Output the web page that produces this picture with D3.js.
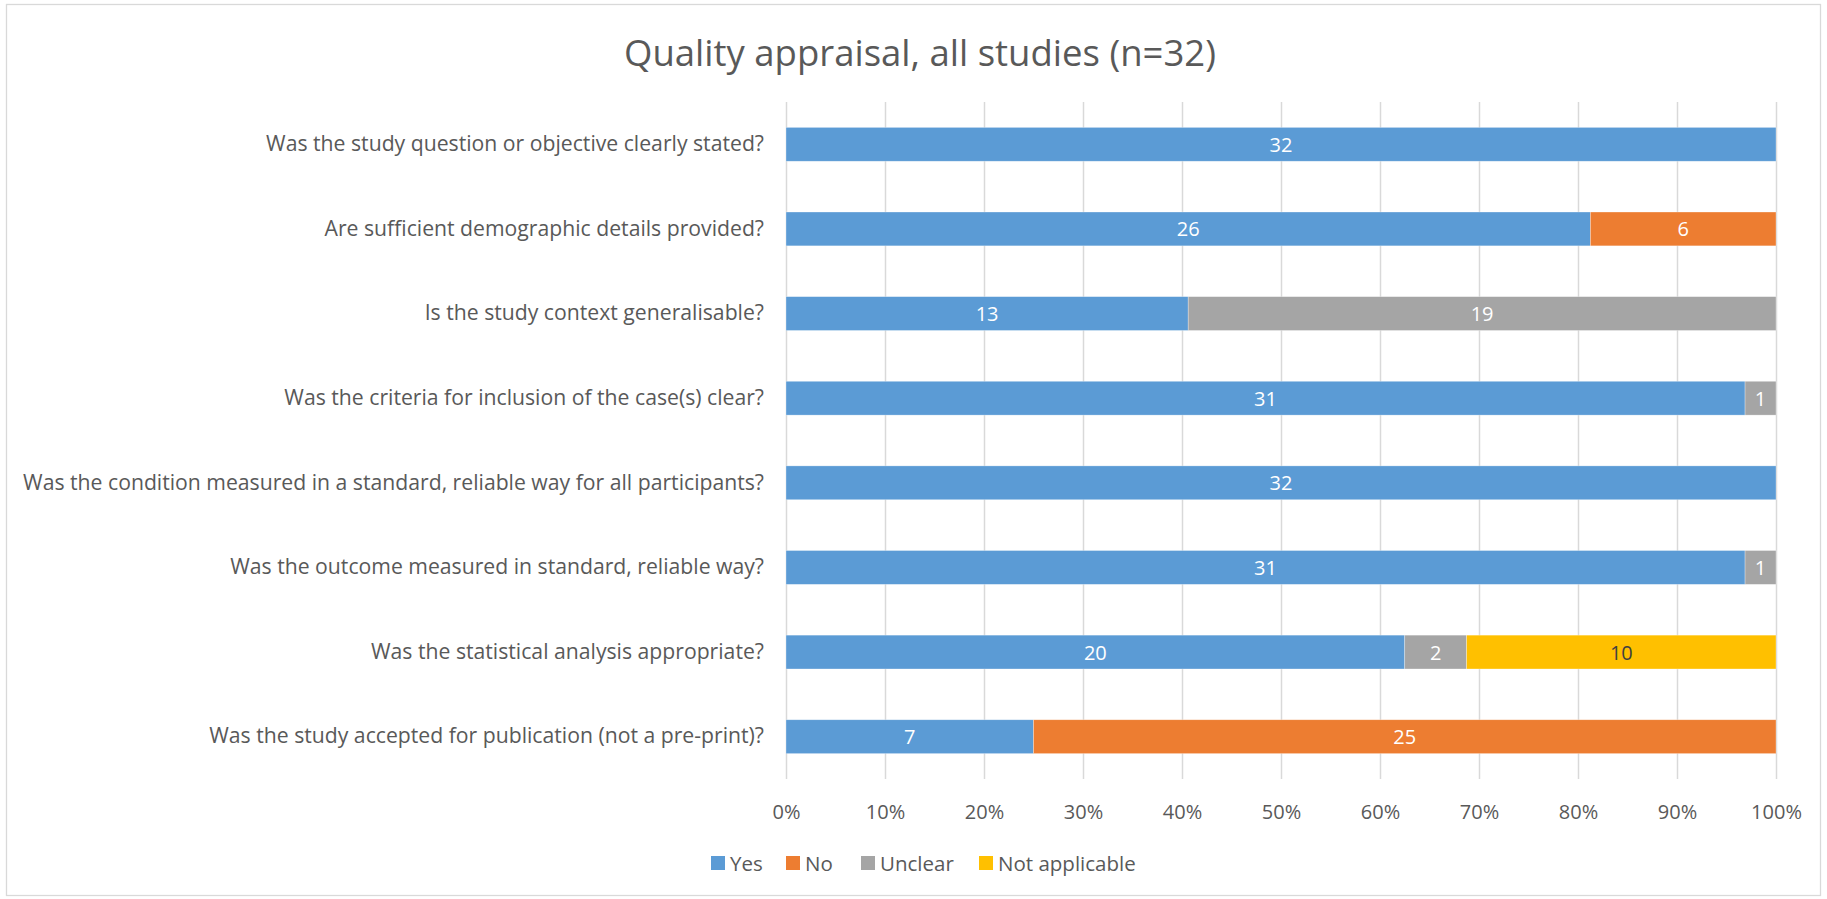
<!DOCTYPE html>
<html>
<head>
<meta charset="utf-8">
<script src="https://cdn.jsdelivr.net/npm/d3@7"></script>
<style>
  html, body { margin: 0; padding: 0; background: #fff; }
  svg { display: block; font-family: "Open Sans", "Noto Sans", sans-serif; }
</style>
</head>
<body>
<div id="chart"></div>
<script>
/* ── Data ─────────────────────────────────────────────── */
const title = 'Quality appraisal, all studies (n=32)';

const questions = [
  'Was the study question or objective clearly stated?',
  'Are sufficient demographic details provided?',
  'Is the study context generalisable?',
  'Was the criteria for inclusion of the case(s) clear?',
  'Was the condition measured in a standard, reliable way for all participants?',
  'Was the outcome measured in standard, reliable way?',
  'Was the statistical analysis appropriate?',
  'Was the study accepted for publication (not a pre-print)?'
];

const seriesNames = ['Yes', 'No', 'Unclear', 'Not applicable'];
// bar lengths as drawn in the original (last row splits at 25% / 75%)
const yesValues     = [32, 26, 13, 31, 32, 31, 20, 8];
const noValues      = [0, 6, 0, 0, 0, 0, 0, 24];
const unclearValues = [0, 0, 19, 1, 0, 1, 2, 0];
const naValues      = [0, 0, 0, 0, 0, 0, 10, 0];
// data labels as printed in the original
const yesLabels     = [32, 26, 13, 31, 32, 31, 20, 7];
const noLabels      = [0, 6, 0, 0, 0, 0, 0, 25];

const xTicks = [0, 0.1, 0.2, 0.3, 0.4, 0.5, 0.6, 0.7, 0.8, 0.9, 1];

/* ── Layout / style ───────────────────────────────────── */
const W = 1827, H = 899;
const plot = { left: 786, right: 1776, top: 102, bottom: 779 };
const COLORS = {
  Yes: '#5B9BD5',
  No: '#ED7D31',
  Unclear: '#A5A5A5',
  'Not applicable': '#FFC000',
  text: '#595959',
  grid: '#D9D9D9',
  border: '#D9D9D9'
};

const rows = questions.map((q, i) => {
  const vals = [yesValues[i], noValues[i], unclearValues[i], naValues[i]];
  const labels = [yesLabels[i], noLabels[i], unclearValues[i], naValues[i]];
  return { q, vals, labels, total: d3.sum(vals) };
});

const stack = [];
rows.forEach((r, i) => {
  let acc = 0;
  r.vals.forEach((v, k) => {
    if (v > 0) stack.push({ q: r.q, series: seriesNames[k], label: r.labels[k], x0: acc / r.total, x1: (acc + v) / r.total });
    acc += v;
  });
});

const svg = d3.select('#chart').append('svg')
  .attr('width', W).attr('height', H);

svg.append('rect')
  .attr('x', 6.5).attr('y', 4.5)
  .attr('width', 1814).attr('height', 891)
  .attr('fill', '#fff')
  .attr('stroke', COLORS.border).attr('stroke-width', 1.3);

const x = d3.scaleLinear().domain([0, 1]).range([plot.left, plot.right]);
const y = d3.scaleBand().domain(questions).range([plot.top, plot.bottom]).paddingInner(0.6).paddingOuter(0.3);

// title
svg.append('text')
  .attr('x', 920).attr('y', 52)
  .attr('text-anchor', 'middle').attr('dominant-baseline', 'central')
  .attr('font-size', 36.5).attr('fill', COLORS.text)
  .text(title);

// gridlines
svg.append('g').selectAll('line').data(xTicks).join('line')
  .attr('x1', d => Math.round(x(d)) + 0.5).attr('x2', d => Math.round(x(d)) + 0.5)
  .attr('y1', plot.top).attr('y2', plot.bottom)
  .attr('stroke', COLORS.grid).attr('stroke-width', 1.5);

// x axis labels
const xAxis = d3.axisBottom(x).tickValues(xTicks).tickFormat(d3.format('.0%')).tickSize(0).tickPadding(0);
const gx = svg.append('g').attr('transform', `translate(0,${plot.bottom})`).call(xAxis);
gx.select('.domain').remove();
gx.selectAll('text')
  .attr('y', 33).attr('dy', '0.35em')
  .attr('font-family', '"Open Sans", "Noto Sans", sans-serif')
  .attr('font-size', 20).attr('fill', COLORS.text);

// y axis labels
const yAxis = d3.axisLeft(y).tickSize(0).tickPadding(22);
const gy = svg.append('g').attr('transform', `translate(${plot.left},0)`).call(yAxis);
gy.select('.domain').remove();
gy.selectAll('text')
  .attr('font-family', '"Open Sans", "Noto Sans", sans-serif')
  .attr('font-size', 21.2).attr('fill', COLORS.text);

// bars
const bars = svg.append('g');
bars.selectAll('rect').data(stack).join('rect')
  .attr('x', d => x(d.x0))
  .attr('width', d => x(d.x1) - x(d.x0))
  .attr('y', d => y(d.q))
  .attr('height', y.bandwidth())
  .attr('fill', d => COLORS[d.series])
  .attr('stroke', '#fff').attr('stroke-width', 0.6).attr('stroke-opacity', 0.5);

// labels
bars.selectAll('text').data(stack).join('text')
  .attr('x', d => (x(d.x0) + x(d.x1)) / 2)
  .attr('y', d => y(d.q) + y.bandwidth() / 2)
  .attr('text-anchor', 'middle').attr('dominant-baseline', 'central')
  .attr('font-size', 20)
  .attr('fill', d => d.series === 'Not applicable' ? '#404040' : '#fff')
  .text(d => d.label);

// legend
const legendX = [711, 786, 861, 979];
const legend = svg.append('g').selectAll('g').data(seriesNames).join('g')
  .attr('transform', (d, i) => `translate(${legendX[i]},863)`);
legend.append('rect')
  .attr('x', 0).attr('y', -7).attr('width', 14).attr('height', 14)
  .attr('fill', d => COLORS[d]);
legend.append('text')
  .attr('x', 19).attr('y', 0).attr('dominant-baseline', 'central')
  .attr('font-size', 20.5).attr('fill', COLORS.text)
  .text(d => d);
</script>
</body>
</html>
